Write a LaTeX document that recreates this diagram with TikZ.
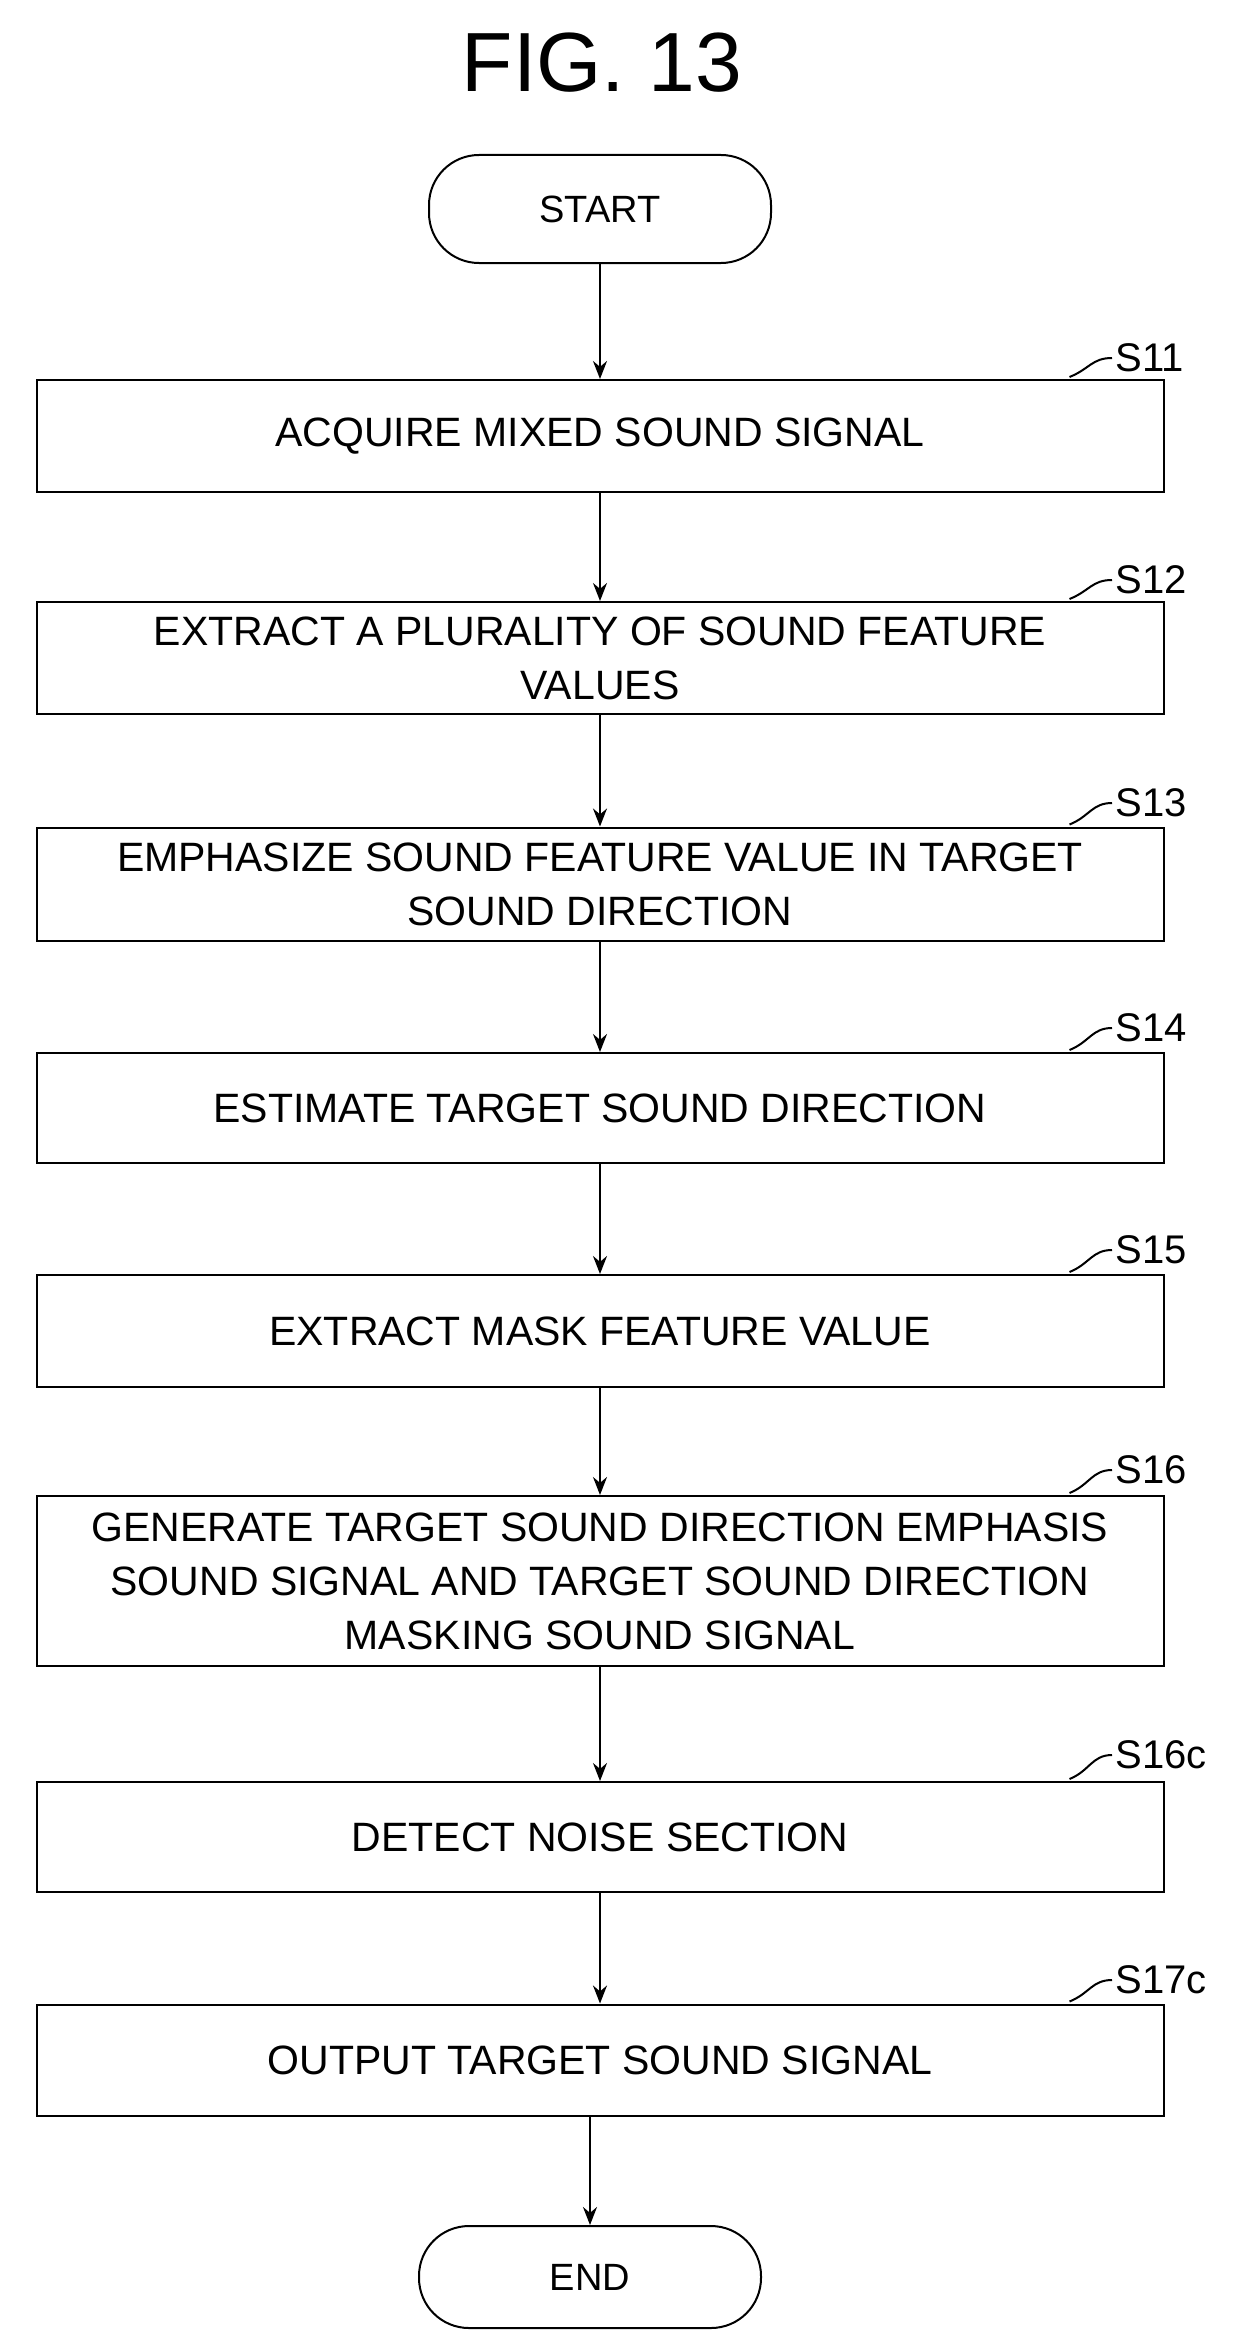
\documentclass[tikz,border=0pt]{standalone}
\usepackage{fontspec}
\setmainfont{Liberation Sans}
\usetikzlibrary{arrows.meta,calc}
\begin{document}
\begin{tikzpicture}[x=1pt,y=-1pt,
  stepbox/.style={draw,line width=2pt,minimum width=1127pt,align=center,font=\fontsize{41}{54}\selectfont,inner sep=0pt},
  term/.style={draw,line width=2pt,rounded corners=50pt,minimum width=342pt,font=\fontsize{38}{44}\selectfont},
  arr/.style={-{Stealth[length=18pt,width=14pt]},line width=2pt},
  lab/.style={font=\fontsize{40}{44}\selectfont,anchor=west},
  hook/.style={line width=2pt}]
\useasboundingbox (0,0) rectangle (1254,2352);
\node[font=\fontsize{84}{90}\selectfont] (title) at (602,63) {FIG. 13};
\node[term,minimum height=108pt] (start) at (600,209) {START};
\node[stepbox,minimum height=112pt] (s11) at (600,436) {ACQUIRE MIXED SOUND SIGNAL};
\node[stepbox,minimum height=112pt] (s12) at (600,658) {EXTRACT A PLURALITY OF SOUND FEATURE\\VALUES};
\node[stepbox,minimum height=113pt] (s13) at (600,884) {EMPHASIZE SOUND FEATURE VALUE IN TARGET\\SOUND DIRECTION};
\node[stepbox,minimum height=110pt] (s14) at (600,1108) {ESTIMATE TARGET SOUND DIRECTION};
\node[stepbox,minimum height=112pt] (s15) at (600,1331) {EXTRACT MASK FEATURE VALUE};
\node[stepbox,minimum height=170pt] (s16) at (600,1581) {GENERATE TARGET SOUND DIRECTION EMPHASIS\\SOUND SIGNAL AND TARGET SOUND DIRECTION\\MASKING SOUND SIGNAL};
\node[stepbox,minimum height=110pt] (s16c) at (600,1837) {DETECT NOISE SECTION};
\node[stepbox,minimum height=111pt] (s17c) at (600,2060) {OUTPUT TARGET SOUND SIGNAL};
\node[term,minimum height=102pt] (end) at (590,2277) {END};
\draw[arr] (start) -- (s11);
\draw[arr] (s11) -- (s12);
\draw[arr] (s12) -- (s13);
\draw[arr] (s13) -- (s14);
\draw[arr] (s14) -- (s15);
\draw[arr] (s15) -- (s16);
\draw[arr] (s16) -- (s16c);
\draw[arr] (s16c) -- (s17c);
\draw[arr] (s17c.south -| end) -- (end);
\foreach \n/\t/\y in {s11/S11/358, s12/S12/580, s13/S13/803, s14/S14/1028, s15/S15/1250, s16/S16/1470, s16c/S16c/1755, s17c/S17c/1980}{
  \node[lab] (l\n) at (1112,\y) {\t};
  \draw[hook] ($(\n.north east)+(-95,-2)$) .. controls +(20,-8) and +(-20,0) .. (l\n.west);
}
\end{tikzpicture}
\end{document}
